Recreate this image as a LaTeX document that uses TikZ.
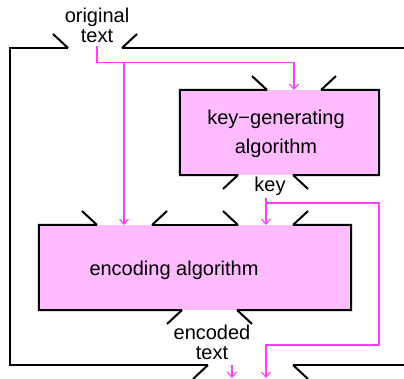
\documentclass[tikz,border=0pt]{standalone}
\usepackage{fontspec}
\setmainfont{Liberation Sans}
\usetikzlibrary{arrows.meta}
\definecolor{boxpink}{RGB}{255,187,255}
\definecolor{wirepink}{RGB}{255,60,255}
\tikzset{
  frame/.style={line width=2pt,black},
  wire/.style={line width=1.2pt,wirepink,-{Straight Barb[length=5pt,width=9pt]}},
  lbl/.style={font=\fontsize{20}{20}\selectfont,inner sep=0pt,align=center},
  box/.style={fill=boxpink,inner sep=0pt}
}
\begin{document}
\begin{tikzpicture}[x=1pt,y=-1pt]
    \useasboundingbox (0,0) rectangle (404,379);
    \node[box,minimum width=199pt,minimum height=85pt] (kg) at (279.5,132.5) {};
    \node[box,minimum width=312pt,minimum height=85pt] (enc) at (195,267.5) {};
    % borders with openings
    \draw[frame] (267,90) -- (kg.north west) -- (kg.south west) -- (238,175);
    \draw[frame] (321,90) -- (kg.north east) -- (kg.south east) -- (293,175);
    \draw[frame] (97,225) -- (enc.north west) -- (enc.south west) -- (182,310);
    \draw[frame] (152,225) -- (238,225);
    \draw[frame] (293,225) -- (enc.north east) -- (enc.south east) -- (237,310);
    \draw[frame] (68,48) -- (10,48) -- (10,365) -- (208,365);
    \draw[frame] (122,48) -- (406,48);
    \draw[frame] (293,365) -- (406,365);
    \foreach \a/\b/\y/\d in {68/122/48/-1, 208/293/365/1, 267/321/90/-1, 238/293/175/1,
                             97/152/225/-1, 238/293/225/-1, 182/237/310/1}
       \draw[frame] (\a,\y) -- ++(-15,{14*\d}) (\b,\y) -- ++(15,{14*\d});
    % texts
    \node[lbl] (orig) at (97,25) {original\\text};
    \node[lbl] (kgT) at (276,133.6) {key−generating\\[9pt]algorithm};
    \node[lbl,anchor=base] (key) at (270,192) {key};
    \node[lbl,anchor=base] (encT) at (174,276) {encoding algorithm};
    \node[lbl] (code) at (212,342.4) {encoded\\text};
    % ports
    \coordinate (kgIn) at (294,90);
    \coordinate (encIn1) at (124,225);
    \coordinate (encIn2) at (266,225);
    \coordinate (keySplit) at (266,203);
    \coordinate (codeOut) at (232,378);
    \coordinate (keyOut) at (266,378);
    \draw[wire] ([yshift=-3pt]orig.south) -- ++(0,17) coordinate (split) -| (kgIn);
    \draw[wire] (split -| encIn1) -- (encIn1);
    \draw[wire] ([yshift=-2pt]key.south -| encIn2) -- (encIn2);
    \draw[wire] (keySplit) -| ++(113,142) -| (keyOut);
    \draw[wire] ([yshift=-5pt]code.south -| codeOut) -- (codeOut);
\end{tikzpicture}
\end{document}
